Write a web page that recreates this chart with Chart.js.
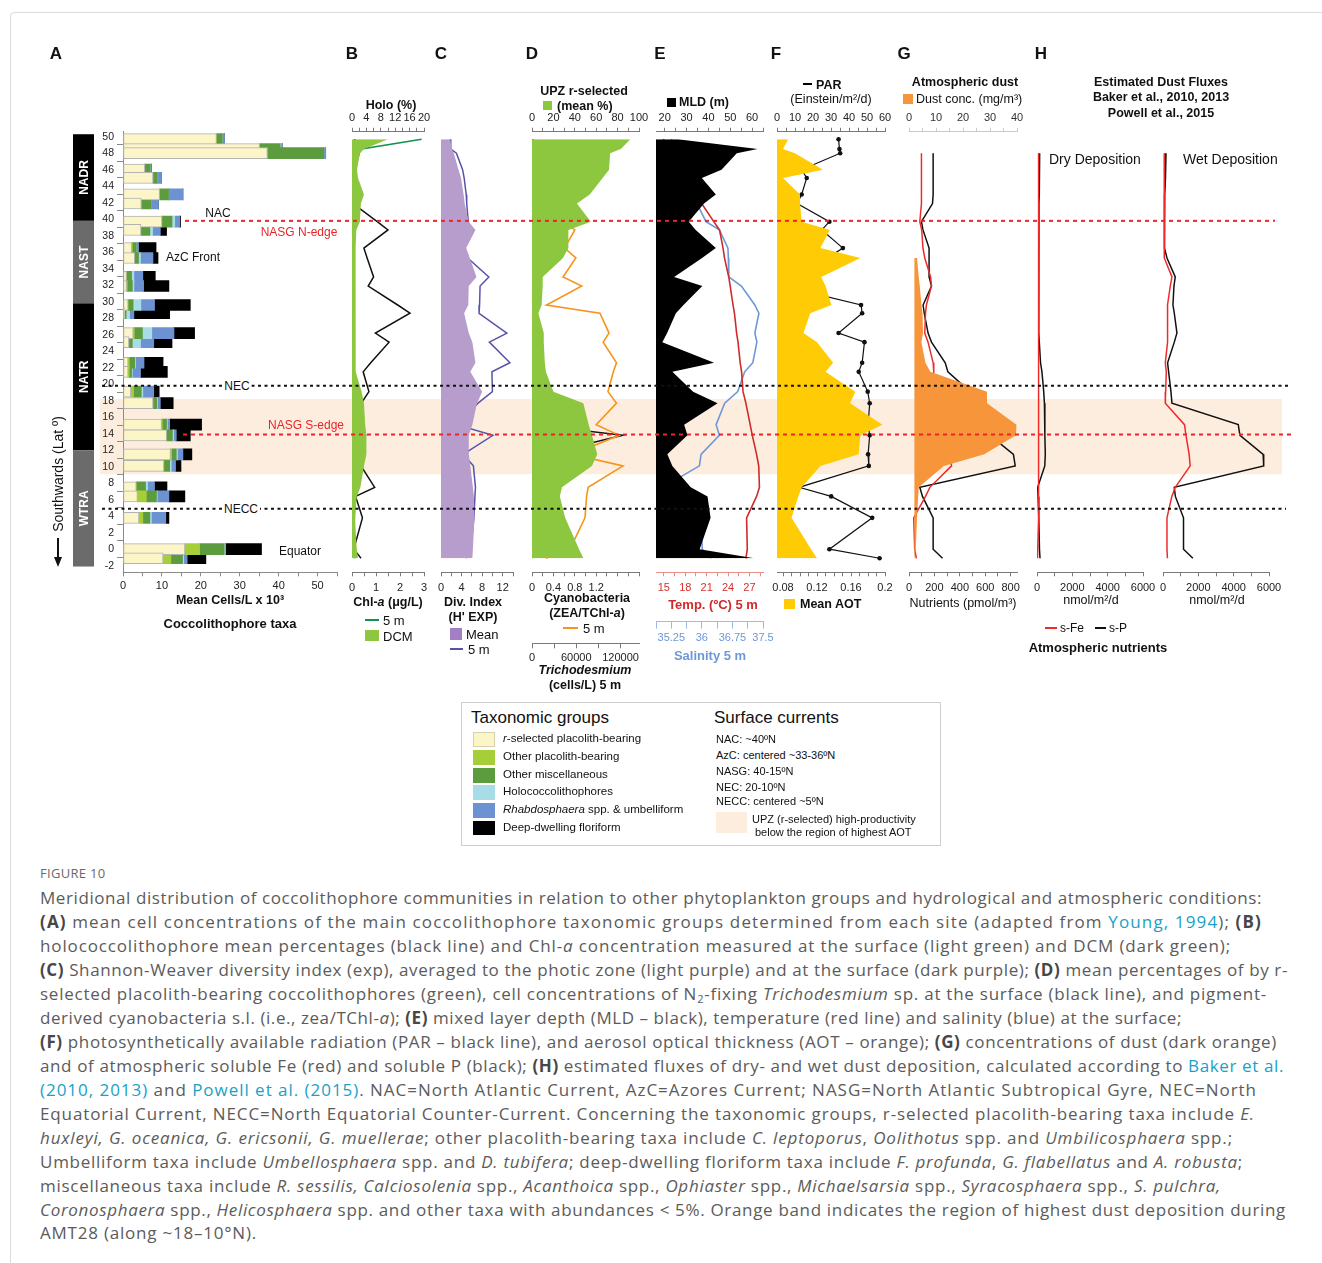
<!DOCTYPE html>
<html>
<head>
<meta charset="utf-8">
<title>Meridional distribution of coccolithophore communities</title>
<script src="https://cdn.jsdelivr.net/npm/chart.js@4.4.1/dist/chart.umd.min.js"></script>
<style>
html,body{margin:0;padding:0;background:#fff}
#fig{position:relative;width:1322px;height:1263px;overflow:hidden;font-family:'Liberation Sans',Arial,Helvetica,sans-serif;color:#111}
#fig canvas{position:absolute}
.t,.tl{position:absolute;white-space:nowrap;line-height:1;z-index:5}
.t{transform:translate(-50%,-50%)}
.tl{transform:translateY(-50%)}
.b{font-weight:bold}
.pl{font-size:17px;font-weight:bold}
.ttl{font-size:12.5px;font-weight:bold}
.sw{position:absolute;z-index:5}
.cap{position:absolute;left:40px;white-space:nowrap;font-family:'Open Sans',sans-serif;font-size:17px;color:#5b5b5b;line-height:1;transform:translateY(-50%)}
.cap b{color:#474747}
.cap a{color:#1a9fc6;text-decoration:none}
.cap sub{font-size:11px;line-height:0;vertical-align:-3px}
.lg{font-size:11.5px}
.sc{font-size:11px}
</style>
</head>
<body>
<div id="fig">
<div style="position:absolute;left:10px;top:12px;width:1340px;height:1280px;border:1px solid #dcdcdc;border-radius:4px"></div>

<div class="t pl" style="left:56px;top:53px">A</div>
<div class="t pl" style="left:352px;top:53px">B</div>
<div class="t pl" style="left:441px;top:53px">C</div>
<div class="t pl" style="left:532px;top:53px">D</div>
<div class="t pl" style="left:660px;top:53px">E</div>
<div class="t pl" style="left:776px;top:53px">F</div>
<div class="t pl" style="left:904px;top:53px">G</div>
<div class="t pl" style="left:1041px;top:53px">H</div>

<!-- panel A annotations -->
<div class="t" style="left:218px;top:213px;font-size:12px">NAC</div>
<div class="t" style="left:299px;top:232px;font-size:12px;color:#e8262a">NASG N-edge</div>
<div class="t" style="left:193px;top:257px;font-size:12px">AzC Front</div>
<div class="t" style="left:237px;top:386px;font-size:12px;background:#fff;padding:1px 2px">NEC</div>
<div class="t" style="left:306px;top:425px;font-size:12px;color:#e8262a">NASG S-edge</div>
<div class="t" style="left:241px;top:509px;font-size:12px;background:#fff;padding:1px 2px">NECC</div>
<div class="t" style="left:300px;top:551px;font-size:12px">Equator</div>
<div class="t" style="left:58px;top:474px;font-size:14px;transform:translate(-50%,-50%) rotate(-90deg)">Southwards (Lat º)</div>
<div class="sw" style="left:57px;top:538px;width:1.6px;height:21px;background:#111"></div>
<div class="sw" style="left:54px;top:557px;width:0;height:0;border-left:4px solid transparent;border-right:4px solid transparent;border-top:10px solid #111"></div>
<div class="t b" style="left:230px;top:600px;font-size:12.5px">Mean Cells/L x 10³</div>
<div class="t b" style="left:230px;top:623px;font-size:13px">Coccolithophore taxa</div>

<!-- panel B -->
<div class="t ttl" style="left:391px;top:105px">Holo (%)</div>
<div class="t ttl" style="left:388px;top:602px">Chl-<i>a</i> (μg/L)</div>
<div class="sw" style="left:365px;top:619px;width:14px;height:2px;background:#12924a"></div>
<div class="tl" style="left:383px;top:620px;font-size:13px">5 m</div>
<div class="sw" style="left:365px;top:630px;width:14px;height:11px;background:#8dc63f"></div>
<div class="tl" style="left:383px;top:636px;font-size:13px">DCM</div>

<!-- panel C -->
<div class="t ttl" style="left:473px;top:602px">Div. Index</div>
<div class="t ttl" style="left:473px;top:617px">(H' EXP)</div>
<div class="sw" style="left:450px;top:628px;width:12px;height:12px;background:#a27fc2"></div>
<div class="tl" style="left:466px;top:634px;font-size:13px">Mean</div>
<div class="sw" style="left:450px;top:648px;width:13px;height:2px;background:#5753ac"></div>
<div class="tl" style="left:468px;top:649px;font-size:13px">5 m</div>

<!-- panel D -->
<div class="t ttl" style="left:584px;top:91px">UPZ r-selected</div>
<div class="sw" style="left:543px;top:101px;width:9px;height:9px;background:#8dc63f"></div>
<div class="tl ttl" style="left:557px;top:106px">(mean %)</div>
<div class="t ttl" style="left:587px;top:598px">Cyanobacteria</div>
<div class="t ttl" style="left:587px;top:613px">(ZEA/TChl-<i>a</i>)</div>
<div class="sw" style="left:563px;top:627px;width:15px;height:2px;background:#f7941d"></div>
<div class="tl" style="left:583px;top:628px;font-size:13px">5 m</div>
<div class="t ttl" style="left:585px;top:670px"><i>Trichodesmium</i></div>
<div class="t ttl" style="left:585px;top:685px">(cells/L) 5 m</div>

<!-- panel E -->
<div class="sw" style="left:667px;top:98px;width:9px;height:9px;background:#000"></div>
<div class="tl ttl" style="left:679px;top:102px">MLD (m)</div>
<div class="t ttl" style="left:713px;top:604px;color:#d02a2a;font-size:13px">Temp. (ºC) 5 m</div>
<div class="t ttl" style="left:710px;top:655px;color:#6d98d8;font-size:13px">Salinity 5 m</div>

<!-- panel F -->
<div class="sw" style="left:803px;top:83px;width:9px;height:2px;background:#000"></div>
<div class="tl ttl" style="left:816px;top:85px">PAR</div>
<div class="t" style="left:831px;top:99px;font-size:12.5px">(Einstein/m²/d)</div>
<div class="sw" style="left:784px;top:599px;width:11px;height:10px;background:#ffcb05"></div>
<div class="tl ttl" style="left:800px;top:604px">Mean AOT</div>

<!-- panel G -->
<div class="t ttl" style="left:965px;top:82px">Atmospheric dust</div>
<div class="sw" style="left:903px;top:94px;width:10px;height:10px;background:#f7953b"></div>
<div class="tl" style="left:916px;top:99px;font-size:12.5px">Dust conc. (mg/m³)</div>
<div class="t" style="left:963px;top:603px;font-size:12.5px">Nutrients (pmol/m³)</div>

<!-- panel H -->
<div class="t ttl" style="left:1161px;top:82px">Estimated Dust Fluxes</div>
<div class="t ttl" style="left:1161px;top:97px">Baker et al., 2010, 2013</div>
<div class="t ttl" style="left:1161px;top:113px">Powell et al., 2015</div>
<div class="tl" style="left:1049px;top:159px;font-size:14px">Dry Deposition</div>
<div class="tl" style="left:1183px;top:159px;font-size:14px">Wet Deposition</div>
<div class="t" style="left:1091px;top:600px;font-size:12.5px">nmol/m²/d</div>
<div class="t" style="left:1217px;top:600px;font-size:12.5px">nmol/m²/d</div>
<div class="sw" style="left:1045px;top:627px;width:12px;height:2px;background:#ee2b2b"></div>
<div class="tl" style="left:1060px;top:628px;font-size:12px">s-Fe</div>
<div class="sw" style="left:1095px;top:627px;width:11px;height:2px;background:#111"></div>
<div class="tl" style="left:1109px;top:628px;font-size:12px">s-P</div>
<div class="t b" style="left:1098px;top:647px;font-size:13px">Atmospheric nutrients</div>

<!-- legend -->
<div style="position:absolute;left:461px;top:702px;width:478px;height:142px;border:1px solid #cfcfcf"></div>
<div class="tl" style="left:471px;top:717px;font-size:17px">Taxonomic groups</div>
<div class="sw" style="left:473px;top:732px;width:20px;height:13px;background:#fbf5c8;border:1px solid #d6d2b0"></div>
<div class="tl lg" style="left:503px;top:739px"><i>r</i>-selected placolith-bearing</div>
<div class="sw" style="left:473px;top:750px;width:22px;height:15px;background:#a6ce39"></div>
<div class="tl lg" style="left:503px;top:757px">Other placolith-bearing</div>
<div class="sw" style="left:473px;top:768px;width:22px;height:15px;background:#5d9b3f"></div>
<div class="tl lg" style="left:503px;top:775px">Other miscellaneous</div>
<div class="sw" style="left:473px;top:785px;width:22px;height:15px;background:#a8dde8"></div>
<div class="tl lg" style="left:503px;top:792px">Holococcolithophores</div>
<div class="sw" style="left:473px;top:803px;width:22px;height:15px;background:#6d92d2"></div>
<div class="tl lg" style="left:503px;top:810px"><i>Rhabdosphaera</i> spp. &amp; umbelliform</div>
<div class="sw" style="left:473px;top:821px;width:22px;height:14px;background:#000"></div>
<div class="tl lg" style="left:503px;top:828px">Deep-dwelling floriform</div>
<div class="tl" style="left:714px;top:717px;font-size:17px">Surface currents</div>
<div class="tl sc" style="left:716px;top:739px">NAC: ~40ºN</div>
<div class="tl sc" style="left:716px;top:755px">AzC: centered ~33-36ºN</div>
<div class="tl sc" style="left:716px;top:771px">NASG: 40-15ºN</div>
<div class="tl sc" style="left:716px;top:787px">NEC: 20-10ºN</div>
<div class="tl sc" style="left:716px;top:801px">NECC: centered ~5ºN</div>
<div class="sw" style="left:716px;top:812px;width:31px;height:21px;background:#fdeddf"></div>
<div class="tl sc" style="left:752px;top:819px">UPZ (r-selected) high-productivity</div>
<div class="tl sc" style="left:755px;top:832px">below the region of highest AOT</div>

<!-- caption -->
<div class="tl" style="left:40px;top:873px;font-family:'Open Sans',sans-serif;font-size:13px;color:#6a6a6a;letter-spacing:0.3px">FIGURE 10</div>
<div class="cap" data-r="1262" style="top:897px">Meridional distribution of coccolithophore communities in relation to other phytoplankton groups and hydrological and atmospheric conditions:</div>
<div class="cap" data-r="1262" style="top:921px"><b>(A)</b> mean cell concentrations of the main coccolithophore taxonomic groups determined from each site (adapted from <a>Young, 1994</a>); <b>(B)</b></div>
<div class="cap" data-r="1231" style="top:945px">holococcolithophore mean percentages (black line) and Chl-<i>a</i> concentration measured at the surface (light green) and DCM (dark green);</div>
<div class="cap" data-r="1288" style="top:969px"><b>(C)</b> Shannon-Weaver diversity index (exp), averaged to the photic zone (light purple) and at the surface (dark purple); <b>(D)</b> mean percentages of by r-</div>
<div class="cap" data-r="1267" style="top:993px">selected placolith-bearing coccolithophores (green), cell concentrations of N<sub>2</sub>-fixing <i>Trichodesmium</i> sp. at the surface (black line), and pigment-</div>
<div class="cap" data-r="1182" style="top:1017px">derived cyanobacteria s.l. (i.e., zea/TChl-<i>a</i>); <b>(E)</b> mixed layer depth (MLD – black), temperature (red line) and salinity (blue) at the surface;</div>
<div class="cap" data-r="1277" style="top:1041px"><b>(F)</b> photosynthetically available radiation (PAR – black line), and aerosol optical thickness (AOT – orange); <b>(G)</b> concentrations of dust (dark orange)</div>
<div class="cap" data-r="1284" style="top:1065px">and of atmospheric soluble Fe (red) and soluble P (black); <b>(H)</b> estimated fluxes of dry- and wet dust deposition, calculated according to <a>Baker et al.</a></div>
<div class="cap" data-r="1257" style="top:1089px"><a>(2010, 2013)</a> and <a>Powell et al. (2015)</a>. NAC=North Atlantic Current, AzC=Azores Current; NASG=North Atlantic Subtropical Gyre, NEC=North</div>
<div class="cap" data-r="1255" style="top:1113px">Equatorial Current, NECC=North Equatorial Counter-Current. Concerning the taxonomic groups, r-selected placolith-bearing taxa include <i>E.</i></div>
<div class="cap" data-r="1233" style="top:1137px"><i>huxleyi, G. oceanica, G. ericsonii, G. muellerae</i>; other placolith-bearing taxa include <i>C. leptoporus</i>, <i>Oolithotus</i> spp. and <i>Umbilicosphaera</i> spp.;</div>
<div class="cap" data-r="1243" style="top:1161px">Umbelliform taxa include <i>Umbellosphaera</i> spp. and <i>D. tubifera</i>; deep-dwelling floriform taxa include <i>F. profunda</i>, <i>G. flabellatus</i> and <i>A. robusta</i>;</div>
<div class="cap" data-r="1221" style="top:1185px">miscellaneous taxa include <i>R. sessilis, Calciosolenia</i> spp., <i>Acanthoica</i> spp., <i>Ophiaster</i> spp., <i>Michaelsarsia</i> spp., <i>Syracosphaera</i> spp., <i>S. pulchra,</i></div>
<div class="cap" data-r="1286" style="top:1209px"><i>Coronosphaera</i> spp., <i>Helicosphaera</i> spp. and other taxa with abundances &lt; 5%. Orange band indicates the region of highest dust deposition during</div>
<div class="cap" data-r="257" style="top:1232px">AMT28 (along ~18–10°N).</div>
</div>

<script>
// ---------- station latitudes (ºN), north to south ----------
const stationLat = [49.7, 48.5, 48.0, 46.0, 45.0, 43.0, 41.9, 39.7, 38.7, 36.5, 35.3, 33.0, 31.9, 29.6, 28.6,
                    26.2, 25.1, 22.6, 21.5, 19.1, 17.7, 15.1, 13.8, 11.5, 10.1, 7.5, 6.4, 3.8, 0.0, -1.1];

// ---------- A: mean cells/L x 10^3 per taxonomic group ----------
const taxaNames = ['r-selected placolith-bearing', 'Other placolith-bearing', 'Other miscellaneous',
                   'Holococcolithophores', 'Rhabdosphaera spp. & umbelliform', 'Deep-dwelling floriform'];
const rSelected      = [24.0,35.1,37.1,5.6,7.7,9.4,4.7,10.0,4.6,2.2,3.0,0.9,0.9,1.3,0.4,2.6,1.5,1.3,1.3,2.0,7.7,9.9,11.2,12.2,10.5,3.4,3.7,4.1,15.9,10.3];
const otherPlacolith = [0,0,0,0,0,0,0,0,0,0.2,0,0,0.2,0,0,0.3,0,0.3,0.3,0.7,0,0.2,0,0.3,0,0,2.3,1.0,3.8,2.0];
const otherMisc      = [1.5,5.3,14.5,1.4,1.1,2.3,2.5,2.6,2.3,1.0,1.0,1.3,1.3,1.3,0.4,2.1,0.9,1.4,0.6,2.0,1.0,1.1,1.5,1.2,1.5,2.4,2.6,1.8,6.3,3.0];
const holococco      = [0,0.2,0,0,0,0,0,0.7,0.7,0,0.5,0.6,0.4,2.0,0.9,2.4,2.1,0.2,0.2,0.4,0.2,0.2,0.3,0.3,0.4,0.5,0.2,0.4,0.2,0.3];
const rhabdoUmbel    = [0.6,0.4,0.5,0.3,1.1,3.7,1.9,1.3,2.0,0.6,3.2,2.3,2.5,3.5,1.1,5.7,3.4,2.2,2.1,2.8,0.7,0.6,0.7,1.4,1.1,1.8,3.0,3.7,0.2,0.9];
const deepFloriform  = [0,0,0,0,0,0,0,0.2,1.6,4.5,1.3,3.2,6.5,9.2,9.2,5.3,4.7,4.9,6.9,1.4,3.3,8.2,3.6,2.3,1.4,3.2,4.1,0.8,9.2,4.8];
const provinceNames  = ['NADR', 'NAST', 'NATR', 'WTRA'];
const provinceBounds = [50.3, 39.8, 29.8, 12.0, -2.1];

// ---------- B: holococcolithophores (%) and Chl-a (µg/L) ----------
const holoPct    = [0.8,0.3,0.2,0.5,1.0,2.1,0.3,7.0,10.0,3.3,4.2,6.0,4.5,12.7,16.1,6.5,10.3,5.2,3.1,4.7,2.6,0.4,3.8,1.2,2.5,6.3,1.0,2.9,0.5,2.5];
const chlSurface = [2.9,0.4,0.3,0.12,0.1,0.08,0.08,0.06,0.06,0.06,0.05,0.05,0.05,0.05,0.05,0.05,0.05,0.06,0.07,0.08,0.12,0.15,0.2,0.22,0.2,0.17,0.12,0.1,0.08,0.1];
const chlDCM     = [1.5,0.5,0.33,0.21,0.25,0.5,0.37,0.33,0.18,0.15,0.15,0.16,0.16,0.15,0.15,0.16,0.16,0.16,0.15,0.4,0.5,0.55,0.6,0.6,0.5,0.35,0.2,0.12,0.2,0.25];

// ---------- C: diversity index (H' exp) ----------
const divMean = [1.8,2.1,2.5,3.4,3.9,4.4,4.6,5.4,6.7,4.9,5.6,6.9,5.4,5.3,4.5,5.4,6.1,6.7,5.7,8.0,7.0,6.1,5.4,5.4,5.7,6.2,6.4,6.5,6.2,6.1];
const div5m   = [1.8,1.9,3.0,4.2,4.5,4.9,5.0,5.3,5.8,4.3,5.2,9.3,7.6,7.5,7.4,12.8,9.4,13.4,9.9,10.0,7.2,3.0,10.1,4.3,6.3,6.7,6.6,6.4,5.8,4.9];

// ---------- D: UPZ r-selected (%), cyanobacteria (ZEA/TChl-a), Trichodesmium (cells/L) ----------
const upzRsel     = [92,83,73,72,66,54,42,55,34,34,29,10,10,9,6,11,11,12,13,20,48,53,56,61,56,28,26,31,44,48];
const cyanoZea    = [0.02,0.15,0.21,0.32,0.78,0.24,0.69,0.58,0.80,0.61,0.82,0.58,0.93,0.27,1.27,1.44,1.33,1.58,1.52,1.42,1.58,1.20,1.63,0.75,1.70,1.05,1.02,0.99,0.71,0.26];
const trichoCells = [0,0,0,0,0,0,0,0,0,0,0,0,0,0,0,0,500,15000,2000,3500,2500,1000,123000,17000,500,0,0,0,0,0];

// ---------- E: MLD (m), temperature (ºC) and salinity at 5 m ----------
const mld     = [26,62.5,53,46,37,43.4,38,31,34.2,43.4,37.1,24.3,37.2,28.6,25.1,21.1,18.9,42.6,23.5,33,44.2,28.9,30.4,21.2,23.5,31.9,39.6,41,36,61];
const temp5m  = [14.9,16.2,16.8,18.5,19.0,19.5,20.3,22.0,22.8,23.3,23.5,24.1,24.3,24.7,24.9,25.2,25.4,25.7,25.9,26.1,26.5,27.1,27.4,28.0,28.3,28.4,28.0,26.6,26.7,26.5];
const sal5m   = [35.24,35.42,35.50,35.70,35.78,35.79,35.88,36.10,36.43,36.64,36.65,36.66,36.97,37.30,37.40,37.30,37.35,37.25,37.05,36.88,36.56,36.35,36.43,35.98,35.94,35.04,35.08,35.98,36.01,36.23];

// ---------- F: PAR (Einstein/m²/d) and mean AOT ----------
const parDaily = [34.2,34.7,35.1,13.7,16.5,13.7,11.2,29.1,24.9,36.6,28.0,17.9,3.4,46.7,47.3,34.2,48.6,47.3,45.4,50.4,51.5,50.6,51.5,50.6,51.0,12.3,30.1,52.9,29.1,57.0];
const aotMean  = [0.086,0.080,0.094,0.127,0.080,0.100,0.100,0.102,0.135,0.124,0.171,0.125,0.130,0.137,0.112,0.104,0.120,0.139,0.130,0.165,0.159,0.197,0.171,0.169,0.124,0.102,0.098,0.090,0.113,0.120];

// ---------- G: dust (mg/m³), soluble Fe and P (pmol/m³) ----------
const dustConc = [null,null,null,null,null,null,null,null,null,null,3.0,3.6,4.0,4.6,5.0,5.2,4.6,6.1,7.9,28.9,28.9,39.8,39.6,27.9,12.9,3.6,3.4,3.0,2.5,2.1];
const solFe    = [null,null,98,98,98,98,98,85,100,110,124,170,177,137,130,124,150,190,195,185,182,269,280,320,335,164,130,37,45,58];
const solP     = [null,null,190,190,190,190,185,98,110,158,158,158,177,111,120,150,177,285,306,480,480,625,638,822,836,85,106,190,190,264];

// ---------- H: dry and wet deposition fluxes (nmol/m²/d) ----------
const dryFe = [null,null,90,90,90,90,90,85,85,85,85,85,85,85,85,90,95,100,100,100,100,100,95,95,90,90,80,60,40,30];
const dryP  = [null,null,150,140,130,120,110,90,90,95,100,100,100,100,105,110,130,200,280,380,420,450,440,470,440,40,60,100,140,170];
const wetFe = [null,null,73,73,73,73,73,60,65,73,73,507,411,256,240,280,256,130,186,150,130,1217,1300,1480,1538,693,500,225,225,250];
const wetP  = [null,null,169,150,130,100,90,73,80,100,225,693,620,563,640,789,640,260,318,450,507,4259,4355,5667,5700,637,700,1161,1161,1690];

// ---------- reference latitudes ----------
const dustBandLat = [18.2, 9.1];          // highest dust deposition (UPZ band)
const nasgNorthLat = 39.8, nasgSouthLat = 13.9, necLat = 19.8, neccLat = 4.9;

// ---------- tick marks / labels ----------
const seq = (a, b, s) => { const o = []; for (let i = 0; a + i * s <= b + 1e-9; i++) o.push(+(a + i * s).toFixed(6)); return o; };
const latTicks = seq(-2, 50, 2);

// ================= drawing =================
const FONT = "'Liberation Sans', Arial, Helvetica, sans-serif";
Chart.defaults.font.family = FONT;
Chart.defaults.color = '#222';

const LAT_MIN = -2.8, LAT_MAX = 50.6;
const CANVAS_TOP = 60, CANVAS_H = 640, AREA_TOP = 71.75, AREA_BOTTOM = 512.3, PADX = 30;
const fig = document.getElementById('fig');
const fmt = v => String(+v.toFixed(4));

function pts(values) {
  const out = [];
  values.forEach((v, i) => { if (v !== null) out.push({ x: v, y: stationLat[i] }); });
  return out;
}

function makeCanvas(id, left, width, z) {
  const c = document.createElement('canvas');
  c.id = id; c.width = width; c.height = CANVAS_H;
  c.style.left = left + 'px'; c.style.top = CANVAS_TOP + 'px'; c.style.zIndex = z;
  fig.appendChild(c);
  return c;
}

function xAxis(o) {
  const line = o.line || '#7a7a7a';
  return {
    type: 'linear', axis: 'x', position: o.position || 'bottom', min: o.min, max: o.max,
    weight: o.weight || 0, offset: false,
    grid: { drawOnChartArea: false, drawTicks: true, tickLength: o.tickLen || 4, color: line, lineWidth: 1 },
    border: { display: true, color: line, width: 1 },
    ticks: { autoSkip: false, maxRotation: 0, minRotation: 0, padding: o.pad === undefined ? 3 : o.pad,
             color: o.color || '#222', font: { size: o.size || 11 },
             callback: v => o.labels.some(l => Math.abs(l - v) < 1e-7) ? fmt(v) : '' },
    afterBuildTicks: s => { s.ticks = o.ticks.map(v => ({ value: v })); },
    afterFit: s => { s.height = o.height; }
  };
}
const latAxis = () => ({ type: 'linear', axis: 'y', min: LAT_MIN, max: LAT_MAX, display: false, offset: false });

function panel(id, areaLeft, areaRight, config, padTop, padBottom, extraLeft) {
  extraLeft = extraLeft || 0;
  const cv = makeCanvas(id, areaLeft - PADX - extraLeft, areaRight - areaLeft + 2 * PADX + extraLeft, 2);
  config.options = Object.assign({
    responsive: false, animation: false, events: [], indexAxis: 'y',
    layout: { padding: { left: PADX, right: PADX, top: padTop, bottom: padBottom } },
    plugins: { legend: { display: false }, tooltip: { enabled: false } },
    elements: { line: { tension: 0 }, point: { radius: 0 } }
  }, config.options);
  return new Chart(cv, config);
}

const line = (values, axisId, color, width, extra) => Object.assign({
  data: pts(values), xAxisID: axisId, yAxisID: 'y', borderColor: color, borderWidth: width || 1.5,
  pointRadius: 0, fill: false }, extra || {});
const area = (values, axisId, color, fill) => ({
  data: pts(values), xAxisID: axisId, yAxisID: 'y', backgroundColor: color, borderColor: color,
  borderWidth: 0, pointRadius: 0, fill: fill || 'origin' });

// page-wide layers sharing the latitude scale
function frame(id, z, datasets) {
  const cv = makeCanvas(id, 0, 1322, z);
  return new Chart(cv, {
    type: 'line', data: { datasets },
    options: {
      responsive: false, animation: false, events: [],
      layout: { padding: { left: 0, right: 0, top: AREA_TOP, bottom: CANVAS_H - AREA_BOTTOM } },
      plugins: { legend: { display: false }, tooltip: { enabled: false } },
      scales: { x: { type: 'linear', min: 0, max: 1322, display: false },
                y: { type: 'linear', min: LAT_MIN, max: LAT_MAX, display: false } },
      elements: { point: { radius: 0 }, line: { tension: 0 } }
    }
  });
}
const bandSpan = [100, 1282];
frame('bandLayer', 0, [{
  data: [{ x: bandSpan[0], y: dustBandLat[0] }, { x: bandSpan[1], y: dustBandLat[0] }],
  fill: { value: dustBandLat[1] }, backgroundColor: '#fdeddf', borderWidth: 0, clip: false }]);

// ---- A: stacked horizontal bars ----
const taxaValues = [rSelected, otherPlacolith, otherMisc, holococco, rhabdoUmbel, deepFloriform];
const taxaColors = ['#fbf5c8', '#a6ce39', '#5d9b3f', '#a8dde8', '#6d92d2', '#000000'];
const provinceShades = ['#000', '#6b6b6b', '#000', '#6b6b6b'];
const provincePlugin = {
  id: 'provinces',
  afterDraw(chart) {
    const { ctx, chartArea, scales } = chart;
    const y = scales.y;
    provinceNames.forEach((name, k) => {
      const top = y.getPixelForValue(provinceBounds[k]);
      const bottom = y.getPixelForValue(provinceBounds[k + 1]);
      const x0 = chartArea.left - 50, w = 21;
      ctx.save();
      ctx.fillStyle = provinceShades[k];
      ctx.fillRect(x0, top, w, bottom - top);
      ctx.translate(x0 + w / 2, (top + bottom) / 2);
      ctx.rotate(-Math.PI / 2);
      ctx.fillStyle = '#fff';
      ctx.font = 'bold 12px ' + FONT;
      ctx.textAlign = 'center'; ctx.textBaseline = 'middle';
      ctx.fillText(name, 0, 1);
      ctx.restore();
    });
  }
};
panel('panelA', 123, 337, {
  type: 'bar',
  data: { datasets: taxaValues.map((vals, k) => ({
    label: taxaNames[k], data: pts(vals), xAxisID: 'x', yAxisID: 'y',
    backgroundColor: taxaColors[k], borderColor: '#b3b3b3', borderWidth: k === 0 ? 1 : 0,
    borderSkipped: false, barThickness: 11 })) },
  options: { scales: {
    x: Object.assign(xAxis({ min: 0, max: 55, ticks: seq(0, 55, 5), labels: seq(0, 50, 10), height: 20, pad: 3, line: '#8a8a8a' }), { stacked: true }),
    y: { type: 'linear', axis: 'y', position: 'left', min: LAT_MIN, max: LAT_MAX, offset: false, stacked: true,
         grid: { drawOnChartArea: false, tickLength: 6, color: '#8a8a8a' },
         border: { display: true, color: '#8a8a8a' },
         ticks: { autoSkip: false, padding: 3, font: { size: 10.5 }, color: '#222', callback: v => fmt(v) },
         afterBuildTicks: s => { s.ticks = latTicks.map(v => ({ value: v })); },
         afterFit: s => { s.width = 50; } } } },
  plugins: [provincePlugin]
}, AREA_TOP, CANVAS_H - AREA_BOTTOM - 20, 50);

// ---- B ----
panel('panelB', 352, 424, {
  type: 'line',
  data: { datasets: [
    area(chlDCM, 'x', '#8dc63f'),
    line(chlSurface, 'x', '#12924a', 1.6),
    line(holoPct, 'holo', '#111', 1.5) ] },
  options: { scales: {
    x: xAxis({ min: 0, max: 3, ticks: seq(0, 3, 0.5), labels: [0, 1, 2, 3], height: 20, pad: 5 }),
    holo: xAxis({ min: 0, max: 20, position: 'top', ticks: seq(0, 20, 2), labels: [0, 4, 8, 12, 16, 20], height: 20 }),
    y: latAxis() } }
}, AREA_TOP - 20, CANVAS_H - AREA_BOTTOM - 20);

// ---- C ----
panel('panelC', 441, 513, {
  type: 'line',
  data: { datasets: [ area(divMean, 'x', '#b69dcb'), line(div5m, 'x', '#5753ac', 1.5) ] },
  options: { scales: {
    x: xAxis({ min: 0, max: 14, ticks: seq(0, 14, 2), labels: [0, 4, 8, 12], height: 20, pad: 5 }),
    y: latAxis() } }
}, AREA_TOP, CANVAS_H - AREA_BOTTOM - 20);

// ---- D ----
panel('panelD', 532, 639, {
  type: 'line',
  data: { datasets: [
    area(upzRsel, 'upz', '#8dc63f'),
    line(cyanoZea, 'x', '#f7941d', 1.6),
    line(trichoCells, 'tri', '#111', 1.5) ] },
  options: { scales: {
    upz: xAxis({ min: 0, max: 100, position: 'top', ticks: seq(0, 100, 10), labels: seq(0, 100, 20), height: 20 }),
    x: xAxis({ min: 0, max: 2, ticks: seq(0, 2, 0.2), labels: [0, 0.4, 0.8, 1.2], height: 71, pad: 5, weight: 0 }),
    tri: xAxis({ min: 0, max: 145000, ticks: seq(0, 120000, 30000), labels: [0, 60000, 120000], height: 20, tickLen: 5, pad: 3, weight: 1 }),
    y: latAxis() } }
}, AREA_TOP - 20, CANVAS_H - AREA_BOTTOM - 91);

// ---- E ----
panel('panelE', 656, 763, {
  type: 'line',
  data: { datasets: [
    area(mld, 'mld', '#000000'),
    line(temp5m, 'x', '#d02a2a', 1.6),
    line(sal5m, 'sal', '#6d98d8', 1.6) ] },
  options: { scales: {
    mld: xAxis({ min: 16, max: 65, position: 'top', ticks: seq(20, 65, 5), labels: seq(20, 60, 10), height: 20 }),
    x: xAxis({ min: 13.9, max: 28.9, ticks: seq(15, 28.5, 1.5), labels: [15, 18, 21, 24, 27], height: 49.4, pad: 5,
               color: '#d7302a', line: '#e98f88', weight: 0 }),
    sal: xAxis({ min: 34.875, max: 37.5, ticks: seq(34.875, 37.5, 0.375), labels: [35.25, 36, 36.75, 37.5], height: 20,
                 tickLen: 7, pad: 3, color: '#6d98d8', line: '#9dbbe6', weight: 1 }),
    y: latAxis() } }
}, AREA_TOP - 20, CANVAS_H - AREA_BOTTOM - 69.4);

// ---- F ----
panel('panelF', 777, 885, {
  type: 'line',
  data: { datasets: [
    area(aotMean, 'x', '#ffcb05'),
    line(parDaily, 'par', '#111', 1.2, { pointRadius: 2.3, pointBackgroundColor: '#111', pointBorderWidth: 0 }) ] },
  options: { scales: {
    par: xAxis({ min: 0, max: 60, position: 'top', ticks: seq(0, 60, 5), labels: seq(0, 60, 10), height: 20 }),
    x: xAxis({ min: 0.0729, max: 0.2, ticks: seq(0.08, 0.2, 0.01), labels: [0.08, 0.12, 0.16, 0.2], height: 20, pad: 5 }),
    y: latAxis() } }
}, AREA_TOP - 20, CANVAS_H - AREA_BOTTOM - 20);

// ---- G ----
panel('panelG', 909, 1017, {
  type: 'line',
  data: { datasets: [
    area(dustConc, 'dust', '#f7953b', { value: 2 }),
    line(solFe, 'x', '#ee2b2b', 1.5),
    line(solP, 'x', '#111', 1.5) ] },
  options: { scales: {
    dust: xAxis({ min: 0, max: 40, position: 'top', ticks: seq(0, 40, 5), labels: seq(0, 40, 10), height: 20, line: '#c9c9c9', color: '#333' }),
    x: xAxis({ min: 0, max: 850, ticks: seq(0, 800, 100), labels: seq(0, 800, 200), height: 20, pad: 5 }),
    y: latAxis() } }
}, AREA_TOP - 20, CANVAS_H - AREA_BOTTOM - 20);

// ---- H: dry and wet deposition ----
[['panelHdry', 1037, 1143, dryFe, dryP], ['panelHwet', 1163, 1269, wetFe, wetP]].forEach(([id, l, r, fe, p]) => {
  panel(id, l, r, {
    type: 'line',
    data: { datasets: [ line(fe, 'x', '#ee2b2b', 1.5), line(p, 'x', '#111', 1.5) ] },
    options: { scales: {
      x: xAxis({ min: 0, max: 6000, ticks: seq(0, 6000, 1000), labels: [0, 2000, 4000, 6000], height: 20, pad: 5 }),
      y: latAxis() } }
  }, AREA_TOP, CANVAS_H - AREA_BOTTOM - 20);
});

// ---- current / gyre boundaries drawn over all panels ----
const refLine = (lat, span, color, dash) => ({
  data: [{ x: span[0], y: lat }, { x: span[1], y: lat }], borderColor: color, borderWidth: 2,
  borderDash: dash, fill: false, clip: false });
frame('refLayer', 3, [
  refLine(nasgNorthLat, [185, 1275], '#e8262a', [4, 4]),
  refLine(nasgSouthLat, [183, 1295], '#e8262a', [4, 4]),
  refLine(necLat, [102, 1291], '#111', [3, 3.5]),
  refLine(neccLat, [102, 1286], '#111', [3, 3.5])
]);

// ---- caption line widths ----
document.querySelectorAll('.cap[data-r]').forEach(el => {
  const target = +el.dataset.r - 40;
  const natural = el.getBoundingClientRect().width;
  const n = el.textContent.length;
  el.style.letterSpacing = ((target - natural) / n).toFixed(3) + 'px';
});
</script>
</body>
</html>
